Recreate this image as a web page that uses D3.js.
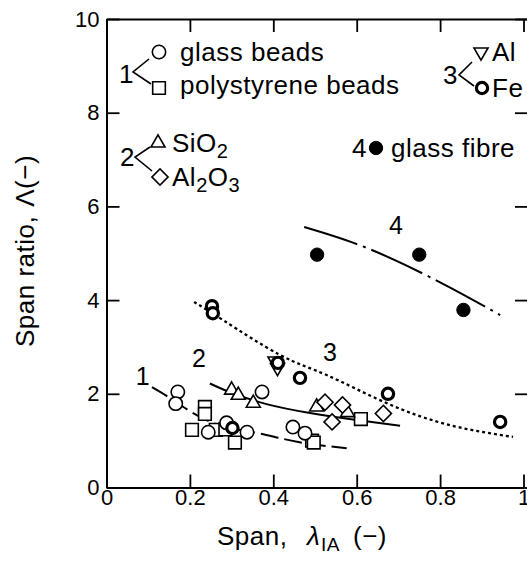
<!DOCTYPE html>
<html>
<head>
<meta charset="utf-8">
<script src="https://cdn.jsdelivr.net/npm/d3@7"></script>
<style>
  body { margin: 0; background: #fff; overflow: hidden; }
  svg { display: block; font-family: "Liberation Sans", Arial, sans-serif; }
  text { fill: #000; }
</style>
</head>
<body>
<svg width="527" height="561"></svg>
<script>
// points: [span, span ratio]
const glassBeads = [[0.171, 2.04], [0.166, 1.79], [0.244, 1.18], [0.288, 1.38], [0.337, 1.18], [0.373, 2.04], [0.447, 1.29], [0.476, 1.16]];
const polystyrene = [[0.205, 1.23], [0.236, 1.72], [0.236, 1.57], [0.262, 1.23], [0.285, 1.24], [0.308, 0.96], [0.493, 1.0], [0.497, 0.96], [0.610, 1.46]];
const sio2 = [[0.300, 2.08], [0.316, 1.97], [0.352, 1.80], [0.504, 1.72], [0.578, 1.60]];
const al2o3 = [[0.524, 1.82], [0.566, 1.76], [0.541, 1.40], [0.664, 1.58]];
const alum = [[0.404, 2.70], [0.410, 2.56]];
const iron = [[0.253, 3.87], [0.255, 3.72], [0.411, 2.66], [0.464, 2.34], [0.675, 2.00], [0.944, 1.40], [0.302, 1.27]];
const glassFibre = [[0.505, 4.97], [0.750, 4.97], [0.856, 3.79]];

// fitted curves, points
const fit1 = [[0.109, 2.14], [0.152, 1.91], [0.200, 1.63], [0.250, 1.40], [0.300, 1.26], [0.370, 1.15], [0.460, 0.97], [0.576, 0.84]];
const fit2 = [[0.248, 2.22], [0.300, 2.02], [0.384, 1.78], [0.488, 1.59], [0.600, 1.44], [0.704, 1.32]];
const fit3 = [[0.210, 3.96], [0.280, 3.57], [0.416, 2.83], [0.528, 2.40], [0.672, 1.80], [0.824, 1.33], [0.975, 1.08]];
const fit4 = [[0.474, 5.56], [0.625, 5.11], [0.800, 4.38], [0.944, 3.68]];

const curveLabels = [["1", 0.087, 2.38], ["2", 0.222, 2.76], ["3", 0.536, 2.89], ["4", 0.694, 5.60]];

const xTicks = [0, 0.2, 0.4, 0.6, 0.8, 1];
const yTicks = [0, 2, 4, 6, 8, 10];

var svg = d3.select("svg");
var x = d3.scaleLinear().domain([0, 1]).range([106.5, 523.5]);
var y = d3.scaleLinear().domain([0, 10]).range([487.5, 19]);
var rightEdge = 529; // right frame falls just outside the cropped picture

function styleAxis(g) {
  g.select(".domain").attr("stroke-width", 2);
  g.selectAll(".tick line").attr("stroke-width", 1.8);
  g.selectAll("text").attr("font-size", 22).attr("font-family", "Liberation Sans").attr("fill", "#000");
}

svg.append("g")
  .attr("transform", "translate(0," + y(0) + ")")
  .call(d3.axisBottom(x).tickValues(xTicks).tickSizeInner(-13).tickSizeOuter(0).tickPadding(2)
    .tickFormat(d => d === 0 ? "0" : d === 1 ? "1" : d3.format(".1f")(d)))
  .call(styleAxis);

svg.append("g")
  .attr("transform", "translate(" + x(0) + ",0)")
  .call(d3.axisLeft(y).tickValues(yTicks).tickSizeInner(-13).tickSizeOuter(0).tickPadding(7))
  .call(styleAxis);

// top and right frame, ticks only
svg.append("g")
  .attr("transform", "translate(0," + y(10) + ")")
  .call(d3.axisTop(x.copy().range([x(0), rightEdge]).domain([0, (rightEdge - x(0)) / (x(1) - x(0))]))
    .tickValues(xTicks).tickSizeInner(-13).tickSizeOuter(0).tickFormat(""))
  .call(styleAxis);

svg.append("g")
  .attr("transform", "translate(" + rightEdge + ",0)")
  .call(d3.axisRight(y).tickValues(yTicks).tickSizeInner(-14).tickSizeOuter(0).tickFormat(""))
  .call(styleAxis);

// fit lines
var line = d3.line().x(d => x(d[0])).y(d => y(d[1])).curve(d3.curveNatural);
[[fit1, "18,6", 2], [fit2, null, 2], [fit3, "3,3", 2.3], [fit4, "56,6,3,6", 2]].forEach(function(f) {
  svg.append("path")
    .datum(f[0])
    .attr("d", line)
    .attr("fill", "none")
    .attr("stroke", "#000")
    .attr("stroke-width", f[2])
    .attr("stroke-dasharray", f[1]);
});

// markers
var sym = {
  circle: d3.symbol().type(d3.symbolCircle).size(140),
  square: d3.symbol().type(d3.symbolSquare).size(160),
  tri: d3.symbol().type(d3.symbolTriangle).size(85),
  diamond: d3.symbol().type(d3.symbolSquare).size(130),
  iron: d3.symbol().type(d3.symbolCircle).size(100)
};

function drawMarkers(data, shape, rot, fill, sw) {
  svg.append("g")
    .selectAll("path")
    .data(data)
    .enter()
    .append("path")
    .attr("d", sym[shape])
    .attr("transform", d => "translate(" + x(d[0]) + "," + y(d[1]) + ") rotate(" + rot + ")")
    .attr("fill", fill)
    .attr("stroke", "#000")
    .attr("stroke-width", sw);
}

drawMarkers(polystyrene, "square", 0, "#fff", 1.6);
drawMarkers(glassBeads, "circle", 0, "#fff", 1.6);
drawMarkers(sio2, "tri", 0, "#fff", 1.6);
drawMarkers(al2o3, "diamond", 45, "#fff", 1.6);
drawMarkers(alum, "tri", 180, "#fff", 1.6);
drawMarkers(iron, "iron", 0, "#fff", 3.2);
drawMarkers(glassFibre, "circle", 0, "#000", 1);

svg.append("g")
  .selectAll("text")
  .data(curveLabels)
  .enter()
  .append("text")
  .attr("x", d => x(d[1]))
  .attr("y", d => y(d[2]))
  .attr("dy", "0.36em")
  .attr("text-anchor", "middle")
  .attr("font-size", 25)
  .text(d => d[0]);

// legend
var leg = svg.append("g").attr("font-size", 26).attr("letter-spacing", 0.5);

function legMark(cx, cy, shape, rot, fill, sw) {
  leg.append("path")
    .attr("d", sym[shape])
    .attr("transform", "translate(" + cx + "," + cy + ") rotate(" + rot + ")")
    .attr("fill", fill)
    .attr("stroke", "#000")
    .attr("stroke-width", sw);
}
function bracket(vx, vy, x1, y1, x2, y2) {
  leg.append("path")
    .attr("d", "M" + x1 + "," + y1 + "L" + vx + "," + vy + "L" + x2 + "," + y2)
    .attr("fill", "none")
    .attr("stroke", "#000")
    .attr("stroke-width", 1.6);
}

leg.append("text").attr("x", 119).attr("y", 83).text("1");
bracket(133, 72, 149, 59, 151, 84);
legMark(159, 52, "circle", 0, "#fff", 1.6);
leg.append("text").attr("x", 180).attr("y", 61).text("glass beads");
legMark(159, 88, "square", 0, "#fff", 1.6);
leg.append("text").attr("x", 180).attr("y", 94).text("polystyrene beads");

leg.append("text").attr("x", 120).attr("y", 166).text("2");
bracket(135, 157, 150, 147, 152, 171);
legMark(158, 143, "tri", 0, "#fff", 1.6);
var t = leg.append("text").attr("x", 172).attr("y", 152);
t.append("tspan").text("SiO");
t.append("tspan").attr("font-size", 20).attr("dy", 6).text("2");
legMark(160, 177, "diamond", 45, "#fff", 1.6);
t = leg.append("text").attr("x", 172).attr("y", 186);
t.append("tspan").text("Al");
t.append("tspan").attr("font-size", 20).attr("dy", 6).text("2");
t.append("tspan").attr("dy", -6).text("O");
t.append("tspan").attr("font-size", 20).attr("dy", 6).text("3");

leg.append("text").attr("x", 352).attr("y", 157).text("4");
legMark(376, 148, "circle", 0, "#000", 1);
leg.append("text").attr("x", 391).attr("y", 157).text("glass fibre");

leg.append("text").attr("x", 443).attr("y", 84).text("3");
bracket(459, 75, 472, 62, 474, 86);
legMark(481, 52, "tri", 180, "#fff", 1.6);
leg.append("text").attr("x", 492).attr("y", 61).text("Al");
legMark(482, 88, "iron", 0, "#fff", 3.2);
leg.append("text").attr("x", 492).attr("y", 97).text("Fe");

// axis titles
var xt = svg.append("text").attr("y", 545).attr("font-size", 26).attr("letter-spacing", 0.5);
xt.append("tspan").attr("x", 217).text("Span,");
xt.append("tspan").attr("x", 307).attr("font-style", "italic").text("λ");
xt.append("tspan").attr("x", 321).attr("dy", 6).attr("font-size", 19).text("IA");
xt.append("tspan").attr("x", 353).attr("dy", -6).text("(−)");

var yt = svg.append("text")
  .attr("transform", "translate(34,347) rotate(-90)")
  .attr("font-size", 26)
  .attr("letter-spacing", 0.5);
yt.append("tspan").text("Span ratio,");
yt.append("tspan").attr("dx", 9).text("Λ(−)");
</script>
</body>
</html>
